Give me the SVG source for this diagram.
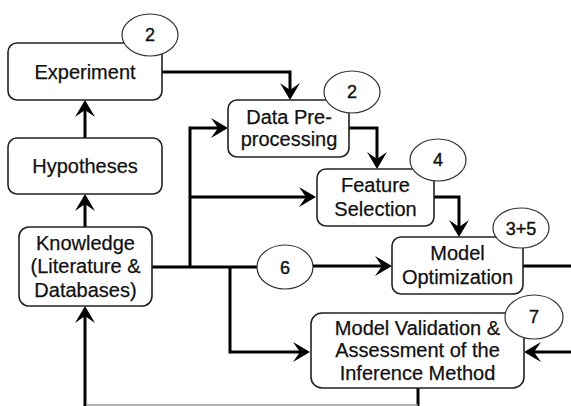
<svg xmlns="http://www.w3.org/2000/svg" width="571" height="406" viewBox="0 0 571 406">
<style>
.box{fill:#fff;stroke:#222;stroke-width:1.6}
.badge{fill:#fff;stroke:#333;stroke-width:1.2}
.t{font-family:"Liberation Sans",Arial,sans-serif;font-size:20px;fill:#111;stroke:#111;stroke-width:0.25;text-anchor:middle}
.n{font-family:"Liberation Sans",Arial,sans-serif;font-size:18px;fill:#111;stroke:#111;stroke-width:0.4;text-anchor:middle}
.c{fill:none;stroke:#000;stroke-width:3;stroke-linejoin:miter}
</style>
<defs>
<marker id="ah" markerUnits="userSpaceOnUse" viewBox="-8 -11 20 22" markerWidth="20" markerHeight="22" refX="0" refY="0" orient="auto" overflow="visible">
<path d="M10,0 L-7,-10 L0,0 L-7,10 Z" fill="#000"/>
</marker>
</defs>
<rect width="571" height="406" fill="#fff"/>
<g id="connectors">
<path class="c" d="M85,138 V110" marker-end="url(#ah)"/>
<path class="c" d="M85,227 V204" marker-end="url(#ah)"/>
<path class="c" d="M85,406 V316" marker-end="url(#ah)"/>
<path class="c" d="M162,72 H290 V90" marker-end="url(#ah)"/>
<path class="c" d="M152,267 H258"/>
<path class="c" d="M313,266 H382" marker-end="url(#ah)"/>
<path class="c" d="M190,267 V128 H218" marker-end="url(#ah)"/>
<path class="c" d="M190,197 H306" marker-end="url(#ah)"/>
<path class="c" d="M349,128 H377 V159" marker-end="url(#ah)"/>
<path class="c" d="M434,197 H459 V227" marker-end="url(#ah)"/>
<path class="c" d="M523,266 H571"/>
<path class="c" d="M230,267 V352 H300" marker-end="url(#ah)"/>
<path class="c" d="M571,352 H534" marker-end="url(#ah)"/>
<path class="c" d="M418,388 V406"/>
<path d="M86,405 H418" fill="none" stroke="#999" stroke-width="1.5"/>
</g>
<g id="experiment">
<rect class="box" x="8" y="43" width="154" height="57" rx="9"/>
<text class="t" x="85" y="79">Experiment</text>
<ellipse class="badge" cx="150" cy="35" rx="28" ry="21"/>
<text class="n" x="150" y="41">2</text>
</g>
<g id="hypotheses">
<rect class="box" x="8" y="138" width="154" height="56" rx="9"/>
<text class="t" x="85" y="173">Hypotheses</text>
</g>
<g id="knowledge">
<rect class="box" x="19" y="227" width="133" height="79" rx="10"/>
<text class="t" x="85.5" y="250">Knowledge</text>
<text class="t" x="85.5" y="273">(Literature &amp;</text>
<text class="t" x="85.5" y="297">Databases)</text>
</g>
<g id="data-preprocessing">
<rect class="box" x="228" y="100" width="121" height="57" rx="9"/>
<text class="t" x="289" y="124">Data Pre-</text>
<text class="t" x="289" y="146">processing</text>
<ellipse class="badge" cx="352" cy="92" rx="28" ry="21"/>
<text class="n" x="352" y="98">2</text>
</g>
<g id="feature-selection">
<rect class="box" x="317" y="169" width="117" height="57" rx="9"/>
<text class="t" x="375.5" y="192">Feature</text>
<text class="t" x="375.5" y="216">Selection</text>
<ellipse class="badge" cx="438" cy="160" rx="28" ry="21"/>
<text class="n" x="438" y="166">4</text>
</g>
<g id="model-optimization">
<rect class="box" x="392" y="237" width="131" height="57" rx="9"/>
<text class="t" x="457.5" y="260">Model</text>
<text class="t" x="457.5" y="284">Optimization</text>
<ellipse class="badge" cx="521" cy="228" rx="28" ry="20"/>
<text class="n" x="521" y="235">3+5</text>
</g>
<g id="badge-6">
<ellipse class="badge" cx="285" cy="267" rx="28" ry="22"/>
<text class="n" x="285" y="274">6</text>
</g>
<g id="model-validation">
<rect class="box" x="311" y="313" width="213" height="75" rx="11"/>
<text class="t" x="417.5" y="335">Model Validation &amp;</text>
<text class="t" x="417.5" y="357">Assessment of the</text>
<text class="t" x="417.5" y="380">Inference Method</text>
<ellipse class="badge" cx="534" cy="317" rx="29" ry="22"/>
<text class="n" x="534" y="323">7</text>
</g>
</svg>
